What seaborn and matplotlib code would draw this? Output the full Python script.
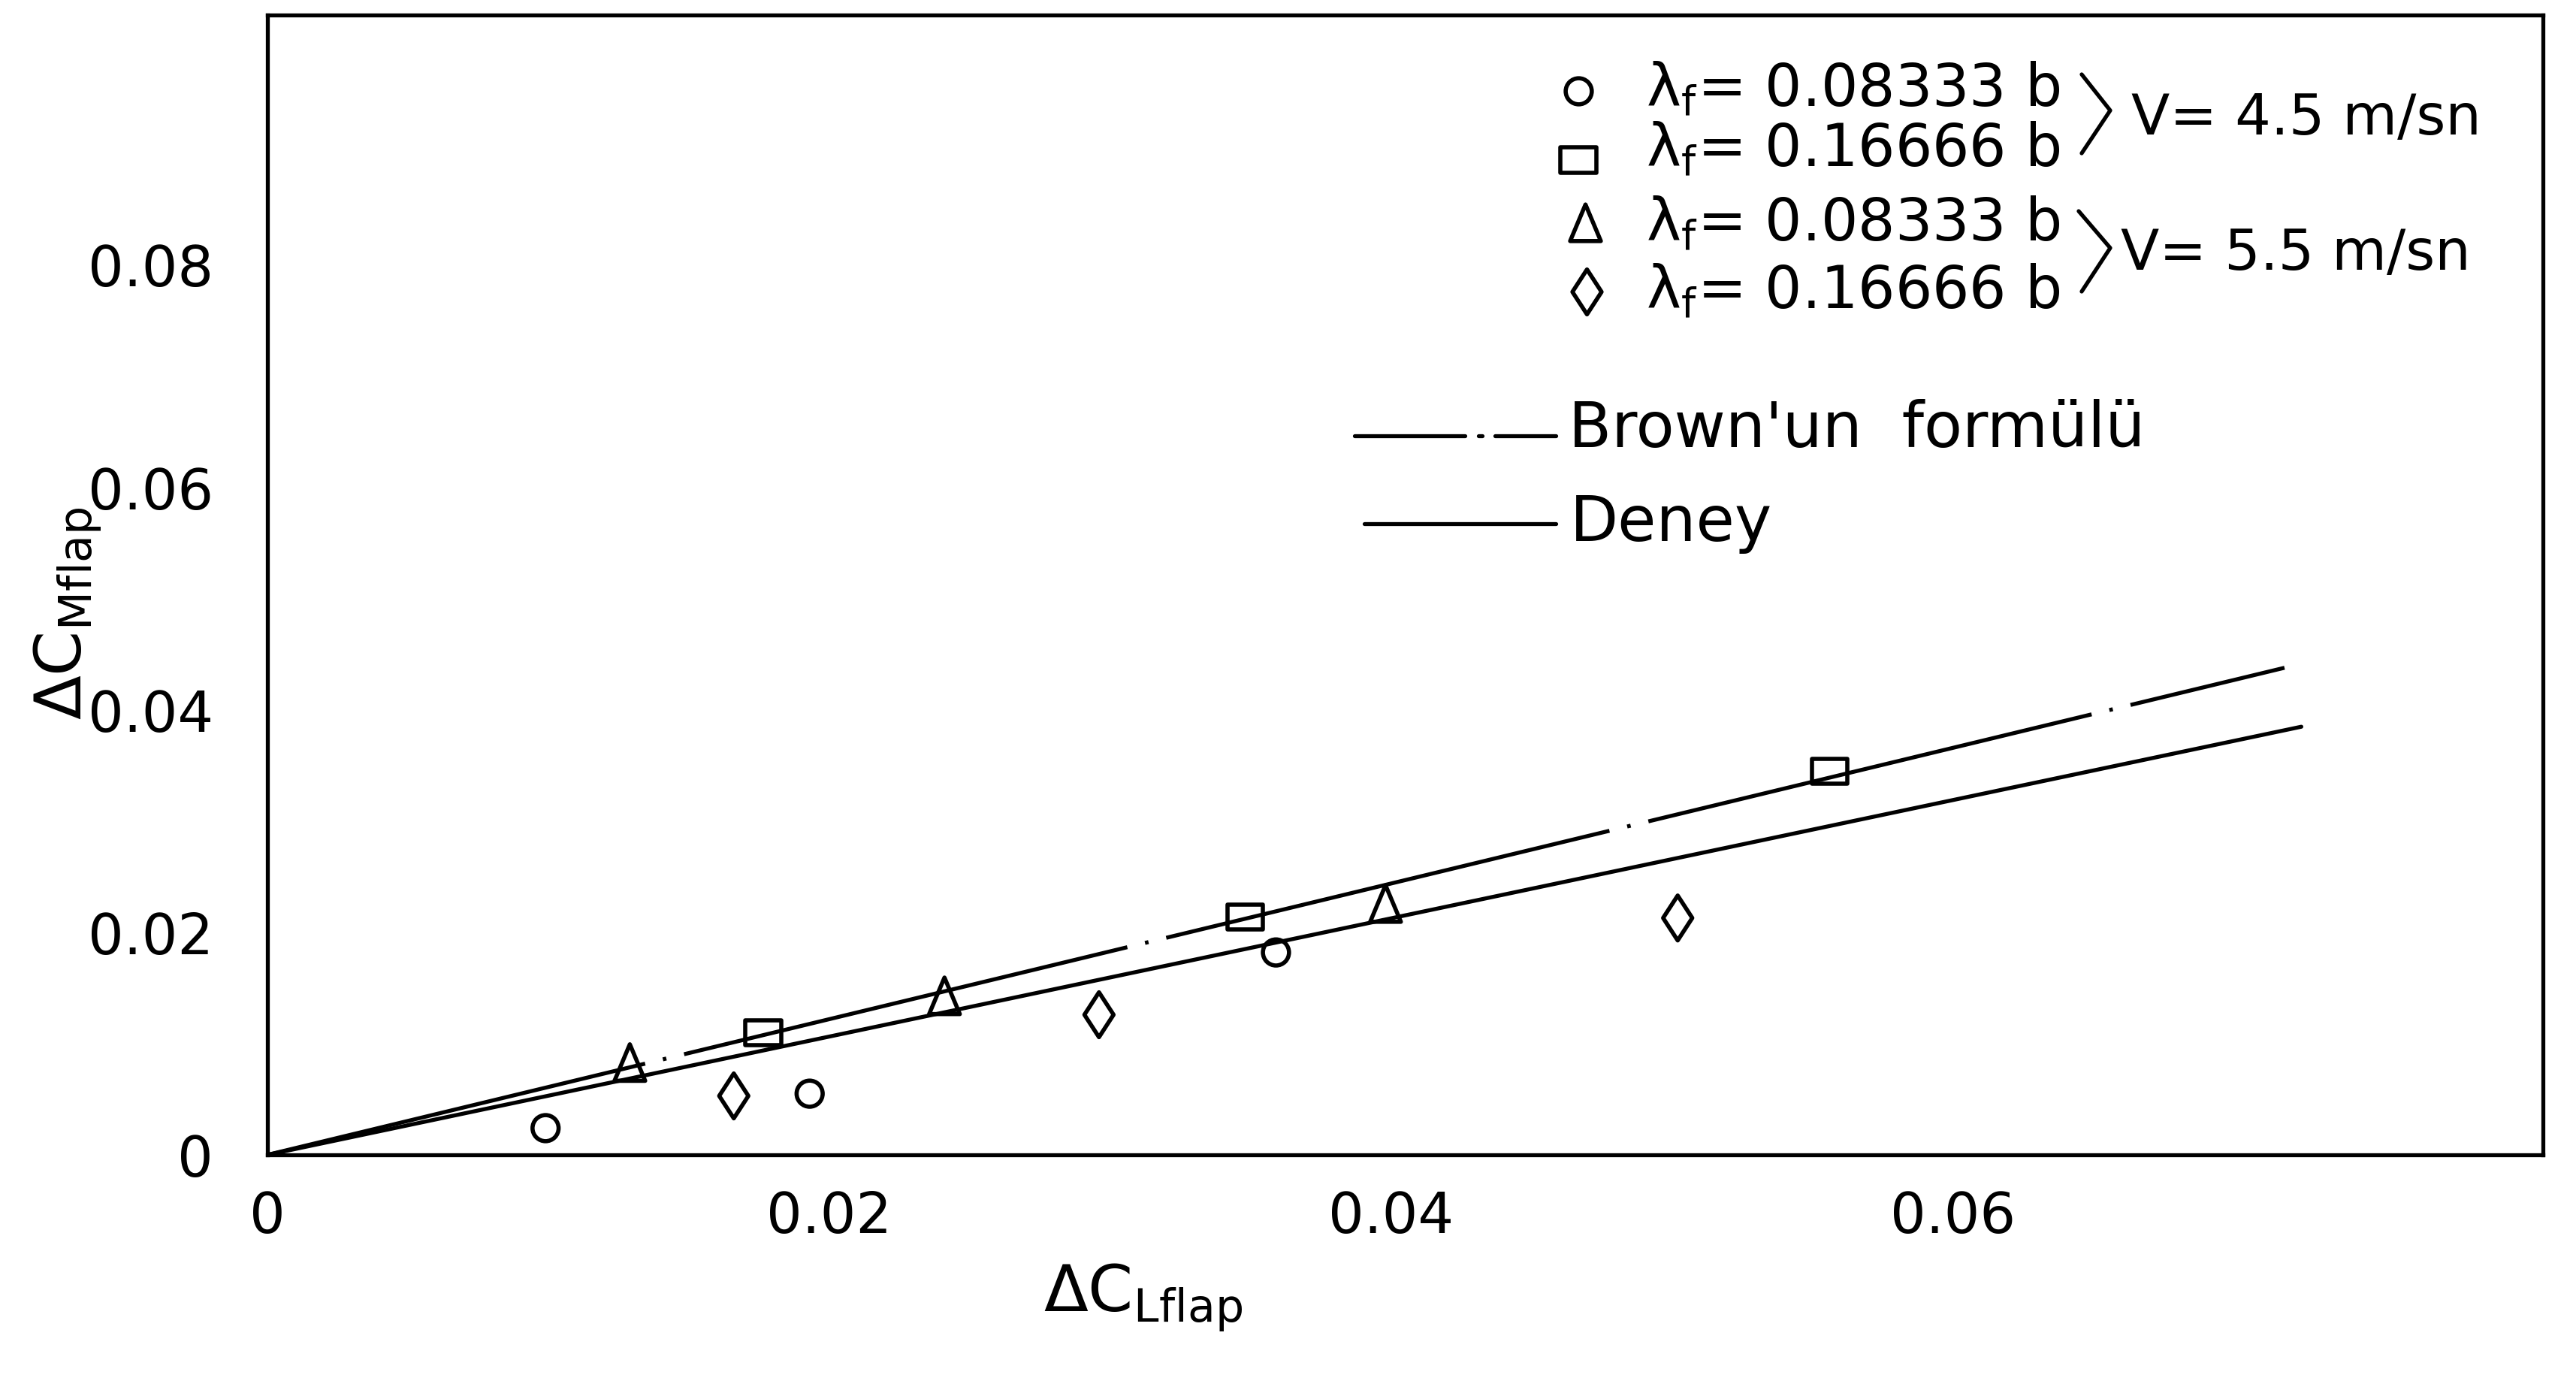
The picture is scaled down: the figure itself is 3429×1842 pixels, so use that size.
import numpy as np
import pandas as pd
import matplotlib
matplotlib.use("Agg")
import matplotlib.pyplot as plt
from matplotlib.path import Path
from matplotlib.lines import Line2D
from matplotlib.markers import MarkerStyle
import seaborn as sns

# ---------------- data ----------------
circle_x = [0.0099, 0.0193, 0.0359]
circle_y = [0.0024, 0.0055, 0.0182]
square_x = [0.01765, 0.0348, 0.0556]
square_y = [0.0110, 0.0214, 0.0345]
triangle_x = [0.0129, 0.0241, 0.0398]
triangle_y = [0.0083, 0.0143, 0.0226]
diamond_x = [0.0166, 0.0296, 0.0502]
diamond_y = [0.0053, 0.0126, 0.0213]

brown_x = [0.0, 0.0718]
brown_y = [0.0, 0.0438]
deney_x = [0.0, 0.0724]
deney_y = [0.0, 0.0385]

x_ticks = [0, 0.02, 0.04, 0.06]
x_tick_labels = ["0", "0.02", "0.04", "0.06"]
y_ticks = [0, 0.02, 0.04, 0.06, 0.08]
y_tick_labels = ["0", "0.02", "0.04", "0.06", "0.08"]

series_labels = [r"λ$_{\mathrm{f}}$= 0.08333 b", r"λ$_{\mathrm{f}}$= 0.16666 b",
                 r"λ$_{\mathrm{f}}$= 0.08333 b", r"λ$_{\mathrm{f}}$= 0.16666 b"]
speed_labels = ["V= 4.5 m/sn", "V= 5.5 m/sn"]
line_labels = ["Brown'un  formülü", "Deney"]
x_label = r"$\Delta\mathrm{C}_{\mathrm{Lflap}}$"
y_label = r"$\Delta\mathrm{C}_{\mathrm{Mflap}}$"

# ---------------- style ----------------
sns.set_theme(style="white")
plt.rcParams["font.family"] = ["DejaVu Sans"]
plt.rcParams["mathtext.fontset"] = "dejavusans"
plt.rcParams["axes.edgecolor"] = "black"
plt.rcParams["axes.labelcolor"] = "black"
plt.rcParams["text.color"] = "black"
plt.rcParams["xtick.color"] = "black"
plt.rcParams["ytick.color"] = "black"

W, H, DPI = 3430, 1842, 200
fig = plt.figure(figsize=(W / DPI, H / DPI), dpi=DPI, facecolor="white")
ax = fig.add_axes([356 / W, 1 - 1537 / H, (3385 - 356) / W, (1537 - 20) / H])
ax.set_facecolor("white")


def fx(px):
    return px / W


def fy(py):
    return 1 - py / H


# marker shapes
rect_marker = MarkerStyle(Path([(-1.42, -1), (1.42, -1), (1.42, 1), (-1.42, 1), (-1.42, -1)],
                               [Path.MOVETO, Path.LINETO, Path.LINETO, Path.LINETO, Path.CLOSEPOLY]))
tri_marker = MarkerStyle(Path([(0, 1), (0.84, -1), (-0.84, -1), (0, 1)],
                              [Path.MOVETO, Path.LINETO, Path.LINETO, Path.CLOSEPOLY]))
dia_marker = MarkerStyle(Path([(0, 1), (0.65, 0), (0, -1), (-0.65, 0), (0, 1)],
                              [Path.MOVETO, Path.LINETO, Path.LINETO, Path.LINETO, Path.CLOSEPOLY]))
circ_marker = MarkerStyle("o")

marker_specs = [
    (circle_x, circle_y, circ_marker, 12.5),
    (square_x, square_y, rect_marker, 17.0),
    (triangle_x, triangle_y, tri_marker, 17.5),
    (diamond_x, diamond_y, dia_marker, 21.5),
]

LW = 1.9
MEW = 2.0
brown_ls = (17, (115, 4.6, 0.9, 4.6))

# ---------------- lines ----------------
sns.lineplot(x=brown_x, y=brown_y, color="black", linewidth=LW, linestyle=brown_ls, ax=ax)
sns.lineplot(x=deney_x, y=deney_y, color="black", linewidth=LW, linestyle="-", ax=ax)

# ---------------- points ----------------
for xs, ys, mk, ms in marker_specs:
    sns.scatterplot(x=xs, y=ys, marker=mk, s=ms ** 2, facecolor="none",
                    edgecolor="black", linewidth=MEW, ax=ax, zorder=3)

# ---------------- axes ----------------
ax.set_xlim(0, 0.0810)
ax.set_ylim(0, 0.1025)
ax.set_xticks(x_ticks)
ax.set_xticklabels(x_tick_labels)
ax.set_yticks(y_ticks)
ax.set_yticklabels(y_tick_labels)
ax.tick_params(axis="x", direction="inout", length=10, width=1.6, pad=12, labelsize=27)
ax.tick_params(axis="y", direction="in", length=6, width=1.6, pad=26, labelsize=27)
for sp in ax.spines.values():
    sp.set_visible(True)
    sp.set_color("black")
    sp.set_linewidth(1.9)

ax.set_xlabel(x_label, fontsize=31, color="black")
ax.xaxis.set_label_coords(0.385, -0.094)
ax.xaxis.label.set_va("top")
ax.set_ylabel(y_label, fontsize=31, color="black")
ax.yaxis.set_label_coords(-0.072, 0.475)

# ---------------- legend (hand-placed as in the reference) ----------------
leg_marker_pos = [(2101, 121), (2101, 213), (2110, 296), (2112, 388)]
leg_text_base = [143, 223, 322, 412]
for (mx, my), (xs, ys, mk, ms), lab, tb in zip(leg_marker_pos, marker_specs, series_labels, leg_text_base):
    fig.add_artist(Line2D([fx(mx)], [fy(my)], marker=mk, markersize=ms,
                          markerfacecolor="none", markeredgecolor="black",
                          markeredgewidth=MEW, linestyle="none", transform=fig.transFigure))
    fig.text(fx(2191), fy(tb), lab, fontsize=28, ha="left", va="baseline")

# brackets
for top, tip, bot in [((2771, 99), (2809, 147), (2771, 204)), ((2767, 281), (2809, 330), (2771, 388))]:
    fig.add_artist(Line2D([fx(top[0]), fx(tip[0]), fx(bot[0])],
                          [fy(top[1]), fy(tip[1]), fy(bot[1])],
                          color="black", linewidth=LW, transform=fig.transFigure))
fig.text(fx(2837), fy(179), speed_labels[0], fontsize=27, ha="left", va="baseline")
fig.text(fx(2823), fy(359), speed_labels[1], fontsize=27, ha="left", va="baseline")

# line legend
fig.add_artist(Line2D([fx(1803), fx(1950)], [fy(580), fy(580)], color="black",
                      linewidth=LW, transform=fig.transFigure))
fig.add_artist(Line2D([fx(1968), fx(1973)], [fy(580), fy(580)], color="black",
                      linewidth=LW, transform=fig.transFigure))
fig.add_artist(Line2D([fx(1990), fx(2071)], [fy(580), fy(580)], color="black",
                      linewidth=LW, transform=fig.transFigure))
fig.add_artist(Line2D([fx(1816), fx(2071)], [fy(697), fy(697)], color="black",
                      linewidth=LW, transform=fig.transFigure))
fig.text(fx(2088), fy(595), line_labels[0], fontsize=30, ha="left", va="baseline")
fig.text(fx(2090), fy(720), line_labels[1], fontsize=30, ha="left", va="baseline")

fig.savefig("out.png", dpi=DPI, facecolor="white")
